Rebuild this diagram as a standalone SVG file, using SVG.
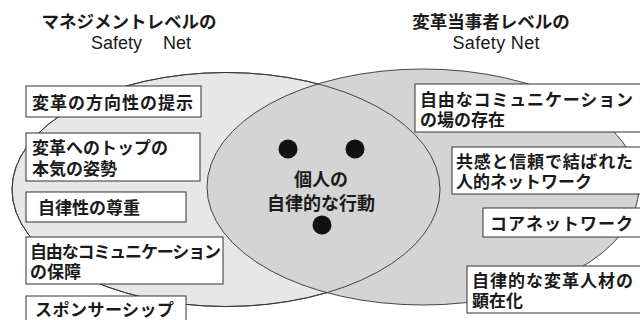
<svg xmlns="http://www.w3.org/2000/svg" width="640" height="320" viewBox="0 0 640 320">
<style>
.jp{font-family:"Noto Sans CJK JP","Liberation Sans",sans-serif;font-weight:bold;font-size:17px;fill:#1a1a1a}
.title{font-size:17.5px;text-anchor:middle}
.lat{font-family:"Liberation Sans",Arial,sans-serif;font-size:18px;fill:#1a1a1a}
.box{fill:#fff;stroke:#333;stroke-width:1}
.ell{stroke:#333;stroke-width:0.9}
.dot{fill:#111}
</style>
<rect width="640" height="320" fill="#fff"/>
<g id="venn">
<ellipse class="ell" cx="226" cy="189.5" rx="214" ry="117" fill="#e7e7e7"/>
<ellipse class="ell" cx="423" cy="187" rx="216" ry="118" fill="#d4d4d4"/>
<ellipse class="ell" cx="226" cy="189.5" rx="214" ry="117" fill="none"/>
</g>
<g id="titles">
<text class="jp title" x="129" y="28">マネジメントレベルの</text>
<text class="lat" y="49"><tspan x="91">Safety</tspan><tspan x="163">Net</tspan></text>
<text class="jp title" x="491" y="28">変革当事者レベルの</text>
<text class="lat" x="496" y="49" text-anchor="middle" textLength="87">Safety Net</text>
</g>
<g id="center">
<circle class="dot" cx="288" cy="149" r="9.5"/>
<circle class="dot" cx="355" cy="149" r="9.5"/>
<circle class="dot" cx="322" cy="225" r="9.5"/>
<text class="jp" text-anchor="middle" style="font-size:18px"><tspan x="321" y="186">個人の</tspan><tspan x="321" y="210">自律的な行動</tspan></text>
</g>
<g id="L1"><rect class="box" x="26" y="86" width="175" height="31"/><text class="jp" x="32" y="109" textLength="161">変革の方向性の提示</text></g>
<g id="L2"><rect class="box" x="26" y="133" width="174" height="48"/><text class="jp"><tspan x="32" y="154">変革へのトップの</tspan><tspan x="32" y="175">本気の姿勢</tspan></text></g>
<g id="L3"><rect class="box" x="26" y="192" width="160" height="30"/><text class="jp" x="38" y="214">自律性の尊重</text></g>
<g id="L4"><rect class="box" x="26" y="237" width="197" height="47"/><text class="jp"><tspan x="30" y="258" textLength="191">自由なコミュニケーション</tspan><tspan x="30" y="278">の保障</tspan></text></g>
<g id="L5"><rect class="box" x="26" y="296" width="160" height="30"/><text class="jp" x="35" y="315.5" textLength="139">スポンサーシップ</text></g>
<g id="R1"><rect class="box" x="415" y="84" width="240" height="48"/><text class="jp"><tspan x="420" y="106" textLength="213">自由なコミュニケーション</tspan><tspan x="420" y="126">の場の存在</tspan></text></g>
<g id="R2"><rect class="box" x="452" y="147" width="200" height="47"/><text class="jp"><tspan x="456" y="168" textLength="177">共感と信頼で結ばれた</tspan><tspan x="456" y="188">人的ネットワーク</tspan></text></g>
<g id="R3"><rect class="box" x="483" y="208" width="170" height="29"/><text class="jp" x="490" y="230" textLength="143">コアネットワーク</text></g>
<g id="R4"><rect class="box" x="467" y="266" width="190" height="47"/><text class="jp"><tspan x="472" y="287" textLength="161">自律的な変革人材の</tspan><tspan x="472" y="307">顕在化</tspan></text></g>
</svg>
